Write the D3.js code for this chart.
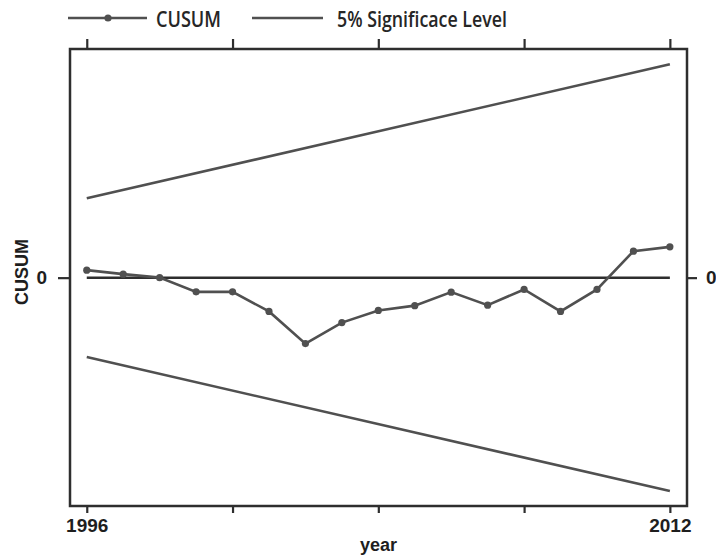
<!DOCTYPE html>
<html>
<head>
<meta charset="utf-8">
<script src="https://cdn.jsdelivr.net/npm/d3@7"></script>
<style>
  body { margin: 0; background: #fff; }
  svg { display: block; }
</style>
</head>
<body>
<svg></svg>
<script>
// data
const years = [1996, 1997, 1998, 1999, 2000, 2001, 2002, 2003, 2004, 2005, 2006, 2007, 2008, 2009, 2010, 2011, 2012];
const cusum = [0.75, 0.35, 0.0, -1.42, -1.42, -3.38, -6.6, -4.5, -3.28, -2.8, -1.45, -2.75, -1.18, -3.38, -1.18, 2.65, 3.08];
const boundYears = [1996, 2012];
const upperBound = [7.95, 21.35];
const lowerBound = [-7.95, -21.35];
const xTicks = [1996, 2000, 2004, 2008, 2012];
const xLabels = ["1996", "", "", "", "2012"];
const legendLabels = ["CUSUM", "5% Significace Level"];

let width = 716;
let height = 560;
let plotLeft = 70, plotRight = 687, plotTop = 49, plotBottom = 506;
let lineColor = "#505050";
let frameColor = "#2e2e2e";

const svg = d3.select("svg").attr("width", width).attr("height", height);

const xScale = d3.scaleLinear().domain([1995.54, 2012.47]).range([plotLeft, plotRight]);
const yScale = d3.scaleLinear().domain([-22.85, 22.88]).range([plotBottom, plotTop]);

const line = d3.line().x((d) => xScale(d[0])).y((d) => yScale(d[1]));

// bounds and zero line
svg.append("path").datum(boundYears.map((y, i) => [y, upperBound[i]]))
  .attr("d", line).attr("fill", "none").attr("stroke", lineColor).attr("stroke-width", 2.6);
svg.append("path").datum(boundYears.map((y, i) => [y, lowerBound[i]]))
  .attr("d", line).attr("fill", "none").attr("stroke", lineColor).attr("stroke-width", 2.6);
svg.append("path").datum(boundYears.map((y) => [y, 0]))
  .attr("d", line).attr("fill", "none").attr("stroke", frameColor).attr("stroke-width", 2.5);

// cusum series
const pts = years.map((y, i) => [y, cusum[i]]);
svg.append("path").datum(pts)
  .attr("d", line).attr("fill", "none").attr("stroke", lineColor).attr("stroke-width", 2.6);
svg.selectAll("circle.pt").data(pts).enter().append("circle").attr("class", "pt")
  .attr("cx", (d) => xScale(d[0])).attr("cy", (d) => yScale(d[1]))
  .attr("r", 3.6).attr("fill", lineColor);

// frame
svg.append("rect").attr("x", plotLeft).attr("y", plotTop)
  .attr("width", plotRight - plotLeft).attr("height", plotBottom - plotTop)
  .attr("fill", "none").attr("stroke", frameColor).attr("stroke-width", 2.5);

// axes
const bottomAxis = d3.axisBottom(xScale).tickValues(xTicks).tickSize(7).tickPadding(4)
  .tickFormat((d, i) => xLabels[i]);
const gx = svg.append("g").attr("transform", "translate(0," + plotBottom + ")").call(bottomAxis);
const topAxis = d3.axisTop(xScale).tickValues(xTicks).tickSize(10).tickFormat("");
const gt = svg.append("g").attr("transform", "translate(0," + plotTop + ")").call(topAxis);
const leftAxis = d3.axisLeft(yScale).tickValues([0]).tickSize(12).tickPadding(11).tickFormat(d3.format("d"));
const gl = svg.append("g").attr("transform", "translate(" + plotLeft + ",0)").call(leftAxis);
const rightAxis = d3.axisRight(yScale).tickValues([0]).tickSize(10).tickPadding(9).tickFormat(d3.format("d"));
const gr = svg.append("g").attr("transform", "translate(" + plotRight + ",0)").call(rightAxis);

[gx, gt, gl, gr].forEach((g) => {
  g.select(".domain").remove();
  g.selectAll(".tick line").attr("stroke", frameColor).attr("stroke-width", 2.2);
  g.selectAll(".tick text").attr("fill", "#1e1e1e")
    .style("font-family", "'Liberation Sans', Arial, sans-serif")
    .style("font-weight", "bold").style("font-size", "19px");
});
gx.selectAll(".tick text").attr("dy", "0.8em");

// axis titles
svg.append("text").attr("x", (plotLeft + plotRight) / 2).attr("y", 551).attr("text-anchor", "middle")
  .attr("fill", "#1e1e1e").style("font-family", "'Liberation Sans', Arial, sans-serif")
  .style("font-weight", "bold").style("font-size", "18px").text("year");
svg.append("text").attr("transform", "translate(28,272) rotate(-90)").attr("text-anchor", "middle")
  .attr("fill", "#1e1e1e").style("font-family", "'Liberation Sans', Arial, sans-serif")
  .style("font-weight", "bold").style("font-size", "18px").text("CUSUM");

// legend
const legend = svg.append("g");
legend.append("line").attr("x1", 68).attr("x2", 147).attr("y1", 18).attr("y2", 18)
  .attr("stroke", lineColor).attr("stroke-width", 2.6);
legend.append("circle").attr("cx", 108).attr("cy", 18).attr("r", 3.6).attr("fill", lineColor);
legend.append("text").attr("x", 156).attr("y", 27).attr("textLength", 65).attr("lengthAdjust", "spacingAndGlyphs")
  .attr("fill", "#262626").style("font-family", "'Open Sans', sans-serif").style("font-weight", "600")
  .style("font-size", "21px").text(legendLabels[0]);
legend.append("line").attr("x1", 252).attr("x2", 323).attr("y1", 18).attr("y2", 18)
  .attr("stroke", lineColor).attr("stroke-width", 2.6);
legend.append("text").attr("x", 337).attr("y", 27).attr("textLength", 170).attr("lengthAdjust", "spacingAndGlyphs")
  .attr("fill", "#262626").style("font-family", "'Open Sans', sans-serif").style("font-weight", "600")
  .style("font-size", "21px").text(legendLabels[1]);
</script>
</body>
</html>
